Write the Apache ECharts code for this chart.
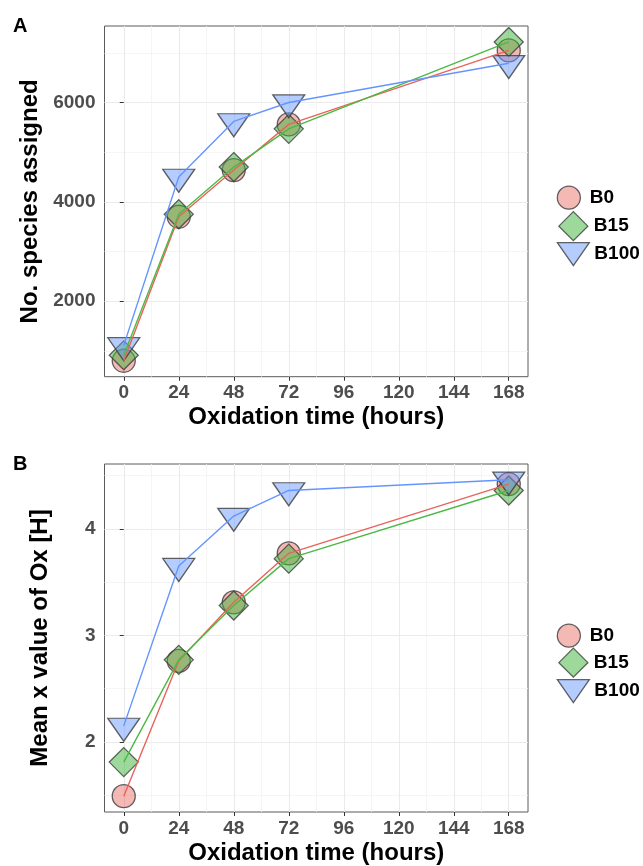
<!DOCTYPE html>
<html><head><meta charset="utf-8">
<script src="https://cdn.jsdelivr.net/npm/echarts@6/dist/echarts.min.js"></script>
<style>html,body{margin:0;padding:0;background:#fff}#c{width:643px;height:866px}</style>
</head><body><div id="c"></div>
<script>
// ---- data ----
const hours = [0, 24, 48, 72, 168];
const xTicks = [0, 24, 48, 72, 96, 120, 144, 168];
const xMinor = [12, 36, 60, 84, 108, 132, 156];
const groups = ['B0', 'B15', 'B100'];

const speciesB0 = [800, 3700, 4640, 5560, 7050];
const speciesB15 = [910, 3750, 4700, 5470, 7220];
const speciesB100 = [1110, 4500, 5620, 6000, 6790];
const speciesTicks = [2000, 4000, 6000];
const speciesMinor = [1000, 3000, 5000, 7000];

const oxB0 = [1.49, 2.76, 3.31, 3.77, 4.42];
const oxB15 = [1.81, 2.77, 3.28, 3.72, 4.36];
const oxB100 = [2.15, 3.65, 4.12, 4.36, 4.46];
const oxTicks = [2, 3, 4];
const oxMinor = [1.5, 2.5, 3.5, 4.5];

// ---- styles ----
const FONT = '"Liberation Sans", Arial, Helvetica, sans-serif';
const lineColors = { B0: '#E8635B', B15: '#4CB944', B100: '#6495FF' };
const fillColors = { B0: 'rgba(232,99,91,0.45)', B15: 'rgba(60,180,55,0.5)', B100: 'rgba(100,149,255,0.48)' };
const borderCol = 'rgba(60,60,60,0.8)';
const triPath = 'path://M0,0L32,0L16,23Z';
const symbols = {
  B0: { symbol: 'circle', size: 23, offset: [0, 0] },
  B15: { symbol: 'diamond', size: [29, 29], offset: [0, 0] },
  B100: { symbol: triPath, size: [32, 23], offset: [0, 3.8] }
};

const panels = [
  { data: { B0: speciesB0, B15: speciesB15, B100: speciesB100 }, ticks: speciesTicks, minor: speciesMinor,
    yName: 'No. species assigned', grid: { left: 104.5, top: 26, width: 423.5, height: 350.7 },
    legendCenters: [192, 220.5, 248.5], letter: 'A', letterTop: 16 },
  { data: { B0: oxB0, B15: oxB15, B100: oxB100 }, ticks: oxTicks, minor: oxMinor,
    yName: 'Mean x value of Ox [H]', grid: { left: 104.5, top: 464, width: 423.5, height: 350 },
    legendCenters: [630, 657, 685.5], letter: 'B', letterTop: 454 }
];

const xMin = -8.4, xMax = 176.4;
const grids = [], xAxes = [], yAxes = [], series = [], legends = [], graphics = [];
const tickLabel = { fontSize: 19, fontWeight: 'bold', color: '#4D4D4D', fontFamily: FONT, formatter: v => String(v) };
const titleStyle = { fontSize: 24, fontWeight: 'bold', color: '#000', fontFamily: FONT };

panels.forEach((p, pi) => {
  let all = [];
  groups.forEach(g => { all = all.concat(p.data[g]); });
  const dMin = Math.min(...all), dMax = Math.max(...all), span = dMax - dMin;
  const yMin = dMin - 0.05 * span, yMax = dMax + 0.05 * span;

  grids.push(Object.assign({ show: true, borderColor: '#5A5A5A', borderWidth: 1, backgroundColor: '#fff' }, p.grid));

  // major x axis
  xAxes.push({
    gridIndex: pi, type: 'value', min: xMin, max: xMax, position: 'bottom',
    axisLine: { show: false },
    axisTick: { show: true, customValues: xTicks, length: 4, lineStyle: { color: '#333', width: 1 } },
    axisLabel: Object.assign({ customValues: xTicks, margin: 7 }, tickLabel),
    splitLine: { show: true, lineStyle: { color: '#EBEBEB', width: 1.1 } },
    name: 'Oxidation time (hours)', nameLocation: 'middle', nameGap: 29, nameTextStyle: titleStyle
  });
  // minor x axis (grid lines only)
  xAxes.push({
    gridIndex: pi, type: 'value', min: xMin, max: xMax, position: 'top',
    axisLine: { show: false },
    axisTick: { show: false, customValues: xMinor },
    axisLabel: { show: false, customValues: xMinor },
    splitLine: { show: true, lineStyle: { color: '#F3F3F3', width: 0.8 } }
  });
  // major y axis
  yAxes.push({
    gridIndex: pi, type: 'value', min: yMin, max: yMax, position: 'left',
    axisLine: { show: false },
    axisTick: { show: true, customValues: p.ticks, length: 4, lineStyle: { color: '#333', width: 1 } },
    axisLabel: Object.assign({ customValues: p.ticks, margin: 9 }, tickLabel),
    splitLine: { show: true, lineStyle: { color: '#EBEBEB', width: 1.1 } },
    name: p.yName, nameLocation: 'middle', nameGap: 52, nameRotate: 90, nameTextStyle: titleStyle
  });
  // minor y axis
  yAxes.push({
    gridIndex: pi, type: 'value', min: yMin, max: yMax, position: 'right',
    axisLine: { show: false },
    axisTick: { show: false, customValues: p.minor },
    axisLabel: { show: false, customValues: p.minor },
    splitLine: { show: true, lineStyle: { color: '#F3F3F3', width: 0.8 } }
  });

  const xi = pi * 2, yi = pi * 2;
  groups.forEach(g => {
    const pts = hours.map((h, i) => [h, p.data[g][i]]);
    series.push({
      name: g, type: 'scatter', xAxisIndex: xi, yAxisIndex: yi, data: pts, clip: false,
      symbol: symbols[g].symbol, symbolSize: symbols[g].size, symbolOffset: symbols[g].offset,
      itemStyle: { color: fillColors[g], borderColor: borderCol, borderWidth: 1.3, opacity: 1 },
      z: 2, emphasis: { disabled: true }
    });
  });
  groups.forEach(g => {
    const pts = hours.map((h, i) => [h, p.data[g][i]]);
    series.push({
      name: g + ' line', type: 'line', xAxisIndex: xi, yAxisIndex: yi, data: pts,
      showSymbol: false, symbol: 'none', clip: false,
      lineStyle: { color: lineColors[g], width: 1.4 }, itemStyle: { color: lineColors[g] },
      z: 3, emphasis: { disabled: true }
    });
  });

  // legends (one per group so each icon keeps its own size)
  groups.forEach((g, gi) => {
    const sz = g === 'B15' ? [29, 29] : [32, 23];
    const cy = p.legendCenters[gi];
    legends.push({
      data: [{ name: g, icon: g === 'B100' ? triPath : symbols[g].symbol }],
      left: 567.7 - sz[0] / 2, top: cy - sz[1] / 2,
      itemWidth: sz[0], itemHeight: sz[1], symbolRotate: 0,
      selectedMode: false,
      itemStyle: { color: fillColors[g], borderColor: borderCol, borderWidth: 1.3 },
      textStyle: { fontSize: 19, fontWeight: 'bold', color: '#000', fontFamily: FONT, padding: [0, 0, 0, g === 'B15' ? 1 : 0] }
    });
  });

  graphics.push({ type: 'text', left: 13, top: p.letterTop,
    style: { text: p.letter, fontSize: 20, fontWeight: 'bold', fill: '#000', fontFamily: FONT } });
});

const chart = echarts.init(document.getElementById('c'), null, { renderer: 'canvas' });
chart.setOption({
  animation: false,
  backgroundColor: '#fff',
  grid: grids, xAxis: xAxes, yAxis: yAxes, series: series, legend: legends, graphic: graphics
});
</script>
</body></html>
